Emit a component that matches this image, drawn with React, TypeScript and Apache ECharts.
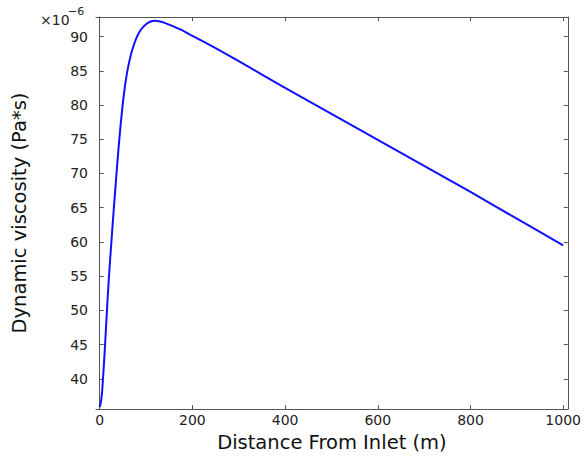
import React, { useEffect, useRef } from "react";
import * as echarts from "echarts";

const distance = [0, 2, 5, 8, 11, 14, 17, 20, 25, 30, 35, 40, 45, 50, 55, 60, 65, 70, 80, 90, 100, 110, 120, 130, 140, 155, 175, 200, 250, 300, 400, 500, 600, 700, 800, 900, 1000];
const viscosity = [35.9, 36.4, 38.0, 41.0, 44.3, 48.0, 51.6, 55.0, 59.8, 64.5, 68.9, 73.2, 77.0, 80.3, 83.0, 85.1, 86.7, 88.0, 89.9, 91.1, 91.8, 92.2, 92.3, 92.2, 92.0, 91.6, 91.0, 90.1, 88.3, 86.4, 82.5, 78.7, 74.9, 71.1, 67.3, 63.4, 59.5];
const xTicks = [0, 200, 400, 600, 800, 1000];
const yTicks = [40, 45, 50, 55, 60, 65, 70, 75, 80, 85, 90];

const FONT = "DejaVu Sans";

export default function App() {
  const ref = useRef<HTMLDivElement>(null);
  useEffect(() => {
    if (!ref.current) return;
    const chart = echarts.init(ref.current, null, { renderer: "svg" });
    const lineStyle = { color: "#555", width: 1 };
    const xMin = -8, xMax = 1010, yMin = 35.6, yMax = 92.85;
    chart.setOption({
      animation: false,
      backgroundColor: "#fff",
      grid: { left: 96, right: 15, top: 17, bottom: 42, containLabel: false },
      graphic: [
        { type: "text", left: 40, top: 13, style: { text: "×10", font: `14px '${FONT}'`, fill: "#222" } },
        { type: "text", left: 68, top: 6, style: { text: "−6", font: `11px '${FONT}'`, fill: "#222" } },
      ],
      xAxis: [
        {
          type: "value", min: xMin, max: xMax, position: "bottom",
          name: "Distance From Inlet (m)", nameLocation: "middle", nameGap: 15,
          nameTextStyle: { fontFamily: FONT, fontSize: 19.5, color: "#111" },
          axisLine: { show: true, lineStyle },
          axisTick: { show: true, inside: true, length: 4, lineStyle, customValues: xTicks },
          axisLabel: { customValues: xTicks, fontFamily: FONT, fontSize: 14, color: "#222", margin: 4, formatter: (v: number) => String(v) },
          splitLine: { show: false },
        },
        {
          type: "value", min: xMin, max: xMax, position: "top",
          axisLine: { show: true, onZero: false, lineStyle },
          axisTick: { show: true, inside: true, length: 4, lineStyle, customValues: xTicks },
          axisLabel: { show: false },
          splitLine: { show: false },
        },
      ],
      yAxis: [
        {
          type: "value", min: yMin, max: yMax, position: "left",
          name: "Dynamic viscosity (Pa*s)", nameLocation: "middle", nameGap: 67,
          nameTextStyle: { fontFamily: FONT, fontSize: 19.5, color: "#111" },
          axisLine: { show: true, lineStyle },
          axisTick: { show: true, inside: true, length: 4, lineStyle, customValues: yTicks },
          axisLabel: { customValues: yTicks, fontFamily: FONT, fontSize: 14, color: "#222", margin: 8 },
          splitLine: { show: false },
        },
        {
          type: "value", min: yMin, max: yMax, position: "right",
          axisLine: { show: true, onZero: false, lineStyle },
          axisTick: { show: true, inside: true, length: 4, lineStyle, customValues: yTicks },
          axisLabel: { show: false },
          splitLine: { show: false },
        },
      ],
      series: [
        {
          type: "line",
          data: distance.map((d, i) => [d, viscosity[i]]),
          showSymbol: false,
          smooth: 0.2,
          lineStyle: { color: "#1010ff", width: 2 },
          clip: true,
        },
      ],
    });
    return () => chart.dispose();
  }, []);
  return <div ref={ref} style={{ width: 584, height: 457, position: "absolute", left: 0, top: 0 }} />;
}
